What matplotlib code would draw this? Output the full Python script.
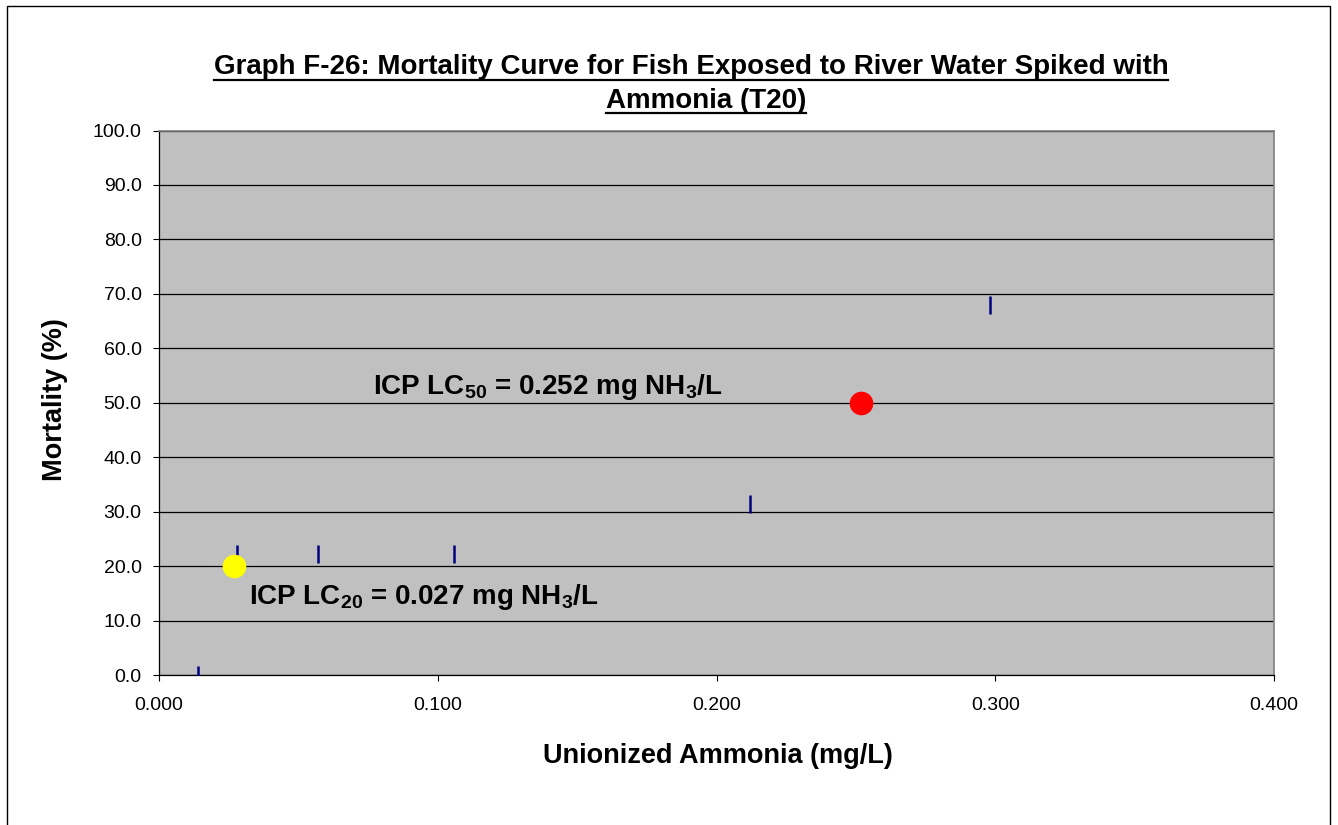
import matplotlib
matplotlib.use("Agg")
import matplotlib.pyplot as plt
from matplotlib.lines import Line2D
from matplotlib.patches import Rectangle

plt.rcParams['font.family'] = ['Liberation Sans', 'DejaVu Sans']
plt.rcParams['mathtext.fontset'] = 'custom'
plt.rcParams['mathtext.bf'] = 'Liberation Sans:bold'
plt.rcParams['mathtext.rm'] = 'Liberation Sans:bold'

# Data
conc = [0.014, 0.028, 0.057, 0.106, 0.212, 0.298]
mortality = [0.0, 22.2, 22.2, 22.2, 31.4, 67.9]
lc50_x, lc50_y = 0.252, 50.0
lc20_x, lc20_y = 0.027, 20.0
x_ticks = [0.0, 0.1, 0.2, 0.3, 0.4]
y_ticks = [0, 10, 20, 30, 40, 50, 60, 70, 80, 90, 100]
title_lines = ["Graph F-26: Mortality Curve for Fish Exposed to River Water Spiked with",
               "Ammonia (T20)"]
xlabel = "Unionized Ammonia (mg/L)"
ylabel = "Mortality (%)"
lc50_text = r"ICP LC$_{\mathbf{50}}$ = 0.252 mg NH$_{\mathbf{3}}$/L"
lc20_text = r"ICP LC$_{\mathbf{20}}$ = 0.027 mg NH$_{\mathbf{3}}$/L"

W, H = 1338, 825
fig = plt.figure(figsize=(W / 100, H / 100), dpi=100)
fig.patch.set_facecolor('white')

# outer border
fig.patches.append(Rectangle((7 / W, -0.01), (1330 - 7) / W, 1 - 6 / H + 0.01,
                             transform=fig.transFigure, fill=False,
                             edgecolor='black', linewidth=1.0))

L, R, B, T = 159, 1274, 675, 130.5
ax = fig.add_axes([L / W, 1 - B / H, (R - L) / W, (B - T) / H])
ax.set_facecolor('#C0C0C0')
ax.set_xlim(0, 0.4)
ax.set_ylim(0, 100)
ax.set_xticks(x_ticks)
ax.set_xticklabels([f"{v:.3f}" for v in x_ticks])
ax.set_yticks(y_ticks)
ax.set_yticklabels([f"{v:.1f}" for v in y_ticks])
ax.tick_params(axis='both', direction='out', length=4.5, width=0.8,
               labelsize=14, colors='black')
ax.tick_params(axis='x', pad=11)
ax.tick_params(axis='y', pad=8)
ax.grid(axis='y', color='black', linewidth=0.9)
ax.set_axisbelow(True)
for s in ['top', 'right']:
    ax.spines[s].set_color('#808080')
    ax.spines[s].set_linewidth(1.2)
for s in ['left', 'bottom']:
    ax.spines[s].set_color('black')
    ax.spines[s].set_linewidth(0.9)

ax.plot(conc, mortality, linestyle='none', marker='|', color='#000080',
        markersize=12.5, markeredgewidth=1.8, zorder=3)
ax.plot([lc50_x], [lc50_y], linestyle='none', marker='o', color='#FF0000',
        markersize=16, zorder=4)
ax.plot([lc20_x], [lc20_y], linestyle='none', marker='o', color='#FFFF00',
        markersize=16, zorder=4)

ax.text(0.0768, 51.55, lc50_text, fontsize=20, fontweight='bold', ha='left',
        va='baseline')
ax.text(0.0323, 12.98, lc20_text, fontsize=20, fontweight='bold', ha='left',
        va='baseline')

fig.text(718 / W, 1 - 763.3 / H, xlabel, fontsize=19.5, fontweight='bold',
         ha='center', va='baseline')
fig.text(62 / W, 1 - 400 / H, ylabel, fontsize=19.5, fontweight='bold',
         ha='center', va='baseline', rotation=90, rotation_mode='anchor')

t1 = fig.text(691 / W, 1 - 74.3 / H, title_lines[0], fontsize=20,
              fontweight='bold', ha='center', va='baseline')
t2 = fig.text(706 / W, 1 - 107.8 / H, title_lines[1], fontsize=20,
              fontweight='bold', ha='center', va='baseline')

fig.canvas.draw()
renderer = fig.canvas.get_renderer()
for t, base in ((t1, 74.3), (t2, 107.8)):
    bb = t.get_window_extent(renderer)
    y = 1 - (base + 5.2) / H
    fig.lines.append(Line2D([bb.x0 / W, bb.x1 / W], [y, y],
                            transform=fig.transFigure, color='black',
                            linewidth=1.6))

fig.savefig("out.png", dpi=100)
